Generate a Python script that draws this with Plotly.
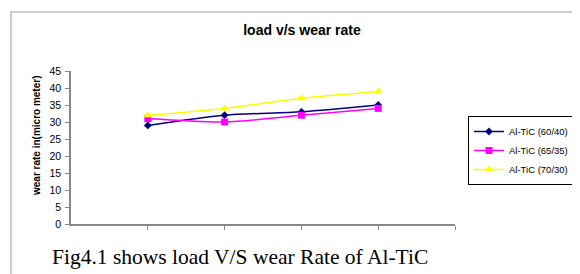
import plotly.graph_objects as go

# ---- data ----
categories = [1, 2, 3, 4]
series_names = ["Al-TiC (60/40)", "Al-TiC (65/35)", "Al-TiC (70/30)"]
al_tic_60_40 = [29, 32, 33, 35]
al_tic_65_35 = [31, 30, 32, 34]
al_tic_70_30 = [32, 34, 37, 39]
y_ticks = [0, 5, 10, 15, 20, 25, 30, 35, 40, 45]

# page body has an 8px margin: build the figure in reference-pixel terms minus that offset
OFF = 8
W, H = 580 - OFF, 274 - OFF
L, R, T, B = 71 - OFF, 580 - 455, 71 - OFF, 274 - 224
pw, ph = W - L - R, H - T - B


def px_x(x):
    return (x - OFF - L) / pw


def px_y(y):
    return (H - B - (y - OFF)) / ph


fig = go.Figure()
styles = [
    dict(color="#000080", symbol="diamond", size=6),
    dict(color="#ff00ff", symbol="square", size=7),
    dict(color="#ffff00", symbol="triangle-up", size=8),
]
for name, vals, st in zip(series_names, [al_tic_60_40, al_tic_65_35, al_tic_70_30], styles):
    fig.add_trace(go.Scatter(
        x=categories, y=vals, name=name, mode="lines+markers",
        line=dict(color=st["color"], width=1.5, shape="spline", smoothing=0.8),
        marker=dict(color=st["color"], symbol=st["symbol"], size=st["size"],
                    line=dict(width=0)),
    ))

fig.update_layout(
    width=W, height=H,
    margin=dict(l=L, r=R, t=T, b=B, autoexpand=False),
    paper_bgcolor="white", plot_bgcolor="white",
    font=dict(family="Liberation Sans, Arial", color="black"),
    title=dict(text="<b>load v/s wear rate</b>", font=dict(size=14, color="black"),
               x=(302 - OFF) / W, xanchor="center", y=1 - (30 - OFF) / H, yanchor="middle",
               xref="container", yref="container"),
    showlegend=True,
    legend=dict(x=px_x(468), xanchor="left", y=px_y(116), yanchor="top",
                bgcolor="white", bordercolor="black", borderwidth=1,
                font=dict(size=9.5, color="black"), tracegroupgap=0),
    xaxis=dict(range=[0, 5], tickvals=[1, 2, 3, 4, 5], ticktext=["", "", "", "", ""],
               ticks="outside", ticklen=4, tickcolor="#888888",
               showline=True, linecolor="#888888", linewidth=1.5,
               showgrid=False, zeroline=False, fixedrange=True),
    yaxis=dict(range=[0, 45], tickvals=y_ticks, ticks="outside", ticklen=4,
               tickcolor="#888888", showline=True, linecolor="#888888", linewidth=1.5,
               showgrid=False, zeroline=False, tickfont=dict(size=10.5, color="black"),
               ticklabelstandoff=2),
    annotations=[
        dict(text="<b>wear rate in(micro meter)</b>", textangle=-90,
             xref="paper", yref="paper", x=px_x(36), y=px_y(136),
             xanchor="center", yanchor="middle", showarrow=False,
             font=dict(size=10, color="black")),
        dict(text="Fig4.1 shows load V/S wear Rate of Al-TiC",
             xref="paper", yref="paper", x=px_x(50), y=px_y(257),
             xanchor="left", yanchor="middle", showarrow=False,
             font=dict(size=21.5, color="black", family="Liberation Serif, Times New Roman")),
    ],
    shapes=[
        dict(type="rect", xref="paper", yref="paper",
             x0=px_x(11), y0=px_y(400), x1=px_x(800), y1=px_y(12),
             line=dict(color="#cccccc", width=2), fillcolor="rgba(0,0,0,0)", layer="below"),
    ],
)

fig.write_html("out.html")
